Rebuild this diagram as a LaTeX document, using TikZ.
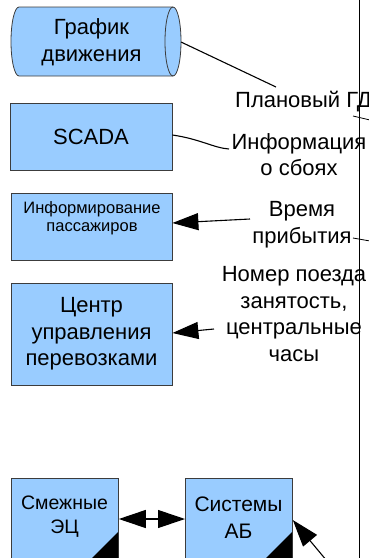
\documentclass[tikz,border=0pt]{standalone}
\usepackage{fontspec}
\setmainfont{Liberation Sans}
\usetikzlibrary{arrows.meta}
\definecolor{boxfill}{HTML}{99CCFF}
\definecolor{boxline}{HTML}{3C3C3C}
\tikzset{
  blockbox/.style={draw=boxline, fill=boxfill, line width=0.8pt, inner sep=0pt},
  lbl/.style={font=\fontsize{22}{26.7}\selectfont, align=center, inner sep=0pt},
  conn/.style={line width=1.1pt, draw=black},
  bigarrow/.style={conn, -{Triangle[length=26pt,width=17pt]}},
  dblarrow/.style={conn, {Triangle[length=27pt,width=18pt]}-{Triangle[length=27pt,width=18pt]}},
}
\begin{document}
\begin{tikzpicture}[x=1pt,y=-1pt]
\useasboundingbox (0,0) rectangle (369,558);
\clip (0,0) rectangle (369,558);

% cylinder "График движения"
\filldraw[draw=boxline, fill=boxfill, line width=0.8pt]
  (173,7) -- (19,7)
  .. controls (14.58,7) and (11,22.45) .. (11,41.5)
  .. controls (11,60.55) and (14.58,76) .. (19,76)
  -- (173,76)
  .. controls (177.42,76) and (181,60.55) .. (181,41.5)
  .. controls (181,22.45) and (177.42,7) .. (173,7) -- cycle;
\draw[draw=boxline, line width=0.8pt]
  (173,7) .. controls (168.58,7) and (165,22.45) .. (165,41.5)
  .. controls (165,60.55) and (168.58,76) .. (173,76);
\node[lbl] (graph) at (91.5,42) {График\\движения};
\coordinate (graphcap) at (181,42);

% boxes
\node[blockbox, minimum width=162pt, minimum height=67pt, font=\fontsize{22}{26.7}\selectfont] (scada) at (91,136.5) {SCADA};
\node[blockbox, minimum width=161pt, minimum height=67pt] (info) at (91.5,226.5) {};
\node[lbl, font=\fontsize{16.5}{18.5}\selectfont] (infotext) at (92,218) {Информирование\\пассажиров};
\node[blockbox, minimum width=161pt, minimum height=102pt, lbl] (center) at (91.5,334) {Центр\\управления\\перевозками};

\node[blockbox, minimum width=107pt, minimum height=122pt, anchor=north west] (adj) at (11,478) {};
\fill[black] (118,532) -- (118,600) -- (50,600) -- cycle;
\node[lbl, font=\fontsize{19.5}{24}\selectfont] (adjtext) at (64.5,517) {Смежные\\ЭЦ};

\node[blockbox, minimum width=107pt, minimum height=122pt, anchor=north west] (ab) at (185,478) {};
\fill[black] (292,532) -- (292,600) -- (224,600) -- cycle;
\node[lbl, font=\fontsize{21}{27}\selectfont] (abtext) at (238.5,518) {Системы\\АБ};

% vertical line
\coordinate (vtop) at (359.5,0);
\coordinate (vbot) at (359.5,558);
\draw[line width=1pt] (vtop) -- (vbot);

% labels
\node[lbl, anchor=base west] (plan) at (235,107) {Плановый ГД};
\node[lbl] (fail) at (299,154.5) {Информация\\о сбоях};
\node[lbl] (time) at (302,225) {Время\\прибытия};
\node[lbl] (trainno) at (294,314) {Номер поезда\\занятость,\\центральные\\часы};

% connectors
\coordinate (planin) at (276,87);
\draw[conn] (graphcap) -- (planin);
\coordinate (failin) at (229,149);
\draw[conn] ([yshift=1.5pt]scada.east) .. controls (200,139) and (214,148) .. (failin);
\coordinate (timein) at (250,219);
\draw[bigarrow] (timein) -- ([yshift=3.5pt]info.east);
\coordinate (trainin) at (214,329);
\draw[bigarrow] (trainin) -- ([yshift=1pt]center.east);
\coordinate (tickA) at (353,116);
\coordinate (tickAend) at (370,120);
\draw[conn, line width=0.8pt] (tickA) -- (tickAend);
\coordinate (tickB) at (353,238);
\coordinate (tickBend) at (370,241);
\draw[conn, line width=0.8pt] (tickB) -- (tickBend);
\draw[dblarrow] ([yshift=-41pt]adj.north east) -- ([yshift=-41pt]ab.north west);
\coordinate (abin) at (327,561);
\draw[conn, -{Triangle[length=27pt,width=18pt]}] (abin) -- ([yshift=-42pt]ab.north east);
\end{tikzpicture}
\end{document}
